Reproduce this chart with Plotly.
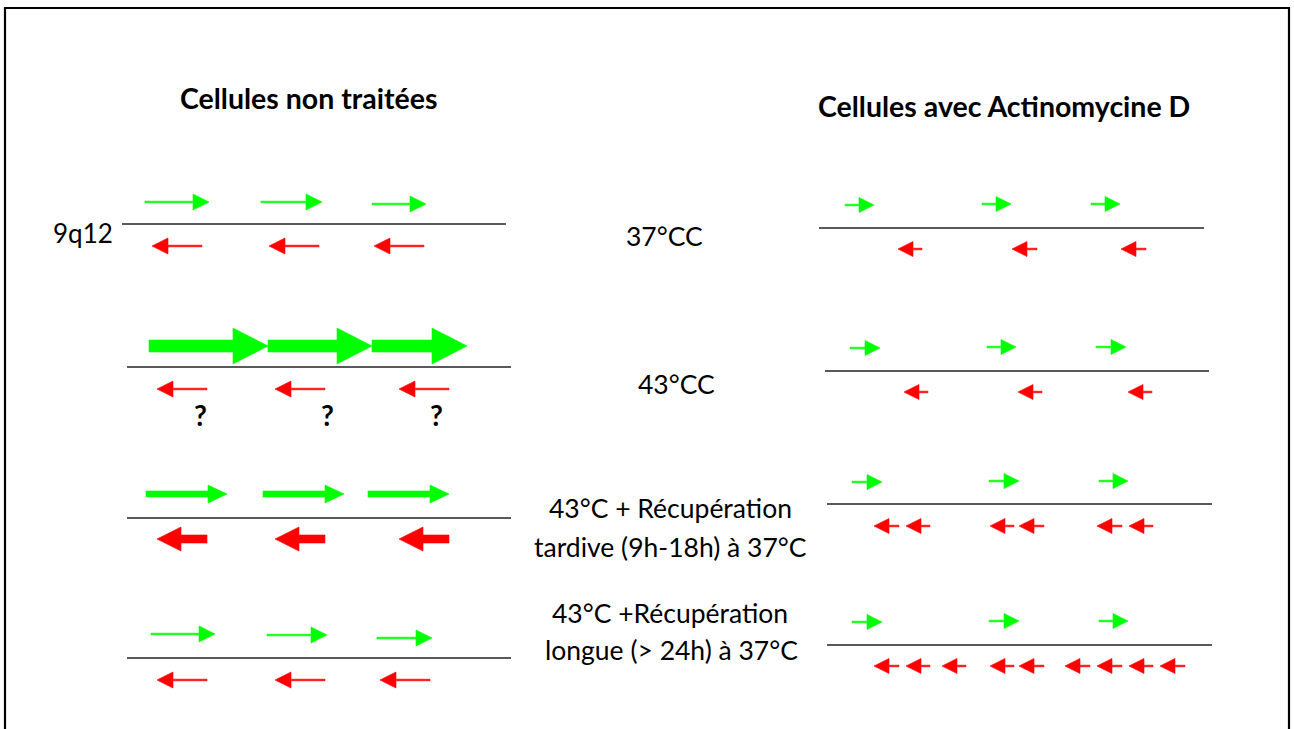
import plotly.graph_objects as go

# ---------------- data ----------------
FONT = "Lato, 'Open Sans', sans-serif"
GREEN = "#00FF00"
RED = "#FF0000"

titles = ["Cellules non traitées", "Cellules avec Actinomycine D"]
title_pos = [(308, 98), (1004, 106)]

middle_labels = ["37°CC", "43°CC",
                 "43°C + Récupération", "tardive (9h-18h) à 37°C",
                 "43°C +Récupération", "longue (> 24h) à 37°C"]
middle_pos = [(664, 236), (676, 384), (670, 508), (670, 547), (670, 613), (671, 650)]

locus_label = "9q12"
locus_pos = (83, 233)

question_marks = ["?", "?", "?"]
question_pos = [(200, 415), (327, 415), (436, 415)]

# baselines (x0, x1, y)
baselines = [(122, 506, 224), (127, 511, 367), (127, 511, 518), (127, 511, 658),
             (819, 1204, 228), (825, 1209, 371), (827, 1212, 504), (827, 1212, 645)]

# arrow styles: (shaft half-thickness, head length, head half-height)
styles = {
    "thin": (0.8, 16, 8),
    "small": (0.8, 15, 7.5),
    "medium": (3, 19, 9),
    "thick": (4, 24, 12),
    "big": (6, 35, 18),
}

# green arrows (tail x, tip x, y, style)
green_arrows = [
    (145, 209, 202, "thin"), (261, 322, 202, "thin"), (372, 426, 204, "thin"),
    (149, 268, 346, "big"), (268, 372, 346, "big"), (372, 467, 346, "big"),
    (146, 227, 494, "medium"), (263, 344, 494, "medium"), (368, 449, 494, "medium"),
    (151, 215, 634, "thin"), (267, 327, 635, "thin"), (377, 432, 638, "thin"),
    (845, 874, 205, "small"), (982, 1011, 204, "small"), (1091, 1120, 204, "small"),
    (850, 880, 348, "small"), (987, 1016, 347, "small"), (1096, 1126, 347, "small"),
    (852, 882, 482, "small"), (989, 1019, 481, "small"), (1099, 1128, 481, "small"),
    (852, 882, 622, "small"), (989, 1019, 621, "small"), (1099, 1128, 621, "small"),
]

# red arrows (tail x, tip x, y, style)
red_arrows = [
    (202, 152, 246, "thin"), (319, 269, 246, "thin"), (424, 374, 246, "thin"),
    (207, 157, 389, "thin"), (325, 275, 389, "thin"), (449, 399, 389, "thin"),
    (207, 157, 539, "thick"), (325, 275, 539, "thick"), (449, 399, 539, "thick"),
    (207, 157, 680, "thin"), (325, 275, 680, "thin"), (430, 380, 680, "thin"),
    (922, 898, 249, "small"), (1037, 1012, 249, "small"), (1146, 1121, 249, "small"),
    (928, 904, 392, "small"), (1042, 1018, 392, "small"), (1152, 1128, 392, "small"),
    (899, 874, 526, "small"), (930, 906, 526, "small"),
    (1014, 990, 526, "small"), (1044, 1019, 526, "small"),
    (1122, 1097, 526, "small"), (1153, 1129, 526, "small"),
    (899, 874, 666, "small"), (930, 906, 666, "small"), (966, 942, 666, "small"),
    (1014, 990, 666, "small"), (1044, 1019, 666, "small"),
    (1090, 1065, 666, "small"), (1122, 1097, 666, "small"),
    (1153, 1129, 666, "small"), (1185, 1160, 666, "small"),
]

W, H = 1294, 729


def arrow_polygon(x0, x1, y, style):
    t, L, h = styles[style]
    d = 1 if x1 > x0 else -1
    xb = x1 - d * L
    xs = [x0, xb, xb, x1, xb, xb, x0, x0, None]
    ys = [y - t, y - t, y - h, y, y + h, y + t, y + t, y - t, None]
    return xs, ys


def collect(arrows):
    X, Y = [], []
    for a in arrows:
        xs, ys = arrow_polygon(*a)
        X += xs
        Y += ys
    return X, Y


fig = go.Figure()

# baselines
bx, by = [], []
for x0, x1, y in baselines:
    bx += [x0, x1, None]
    by += [y, y, None]
fig.add_trace(go.Scatter(x=bx, y=by, mode="lines",
                         line=dict(color="#222222", width=1.6),
                         hoverinfo="skip", showlegend=False))

for arrows, col in [(green_arrows, GREEN), (red_arrows, RED)]:
    X, Y = collect(arrows)
    fig.add_trace(go.Scatter(x=X, y=Y, mode="lines", fill="toself",
                             fillcolor=col, line=dict(color=col, width=0.6),
                             hoverinfo="skip", showlegend=False))

annotations = []
for txt, (x, y) in zip(titles, title_pos):
    annotations.append(dict(x=x, y=y, text="<b>" + txt + "</b>", showarrow=False,
                            font=dict(family=FONT, size=28.5, color="black"),
                            xanchor="center", yanchor="middle"))
for txt, (x, y) in zip(middle_labels, middle_pos):
    annotations.append(dict(x=x, y=y, text=txt, showarrow=False,
                            font=dict(family=FONT, size=26.5, color="black"),
                            xanchor="center", yanchor="middle"))
annotations.append(dict(x=locus_pos[0], y=locus_pos[1], text=locus_label, showarrow=False,
                        font=dict(family=FONT, size=26, color="black"),
                        xanchor="center", yanchor="middle"))
for txt, (x, y) in zip(question_marks, question_pos):
    annotations.append(dict(x=x, y=y, text="<b>" + txt + "</b>", showarrow=False,
                            font=dict(family=FONT, size=28, color="black"),
                            xanchor="center", yanchor="middle"))

shapes = [
    dict(type="path", xref="x", yref="y",
         path="M 5 740 L 5 8 L 1289 8 L 1289 740",
         line=dict(color="black", width=2.2)),
]

fig.update_layout(
    width=W, height=H,
    margin=dict(l=0, r=0, t=0, b=0),
    paper_bgcolor="white", plot_bgcolor="white",
    xaxis=dict(range=[0, W], visible=False, fixedrange=True),
    yaxis=dict(range=[H, 0], visible=False, fixedrange=True),
    annotations=annotations, shapes=shapes,
    showlegend=False,
)

fig.write_html("out.html", config={"displayModeBar": False},
               post_script="document.body.style.margin='0';document.body.style.overflow='hidden';")
